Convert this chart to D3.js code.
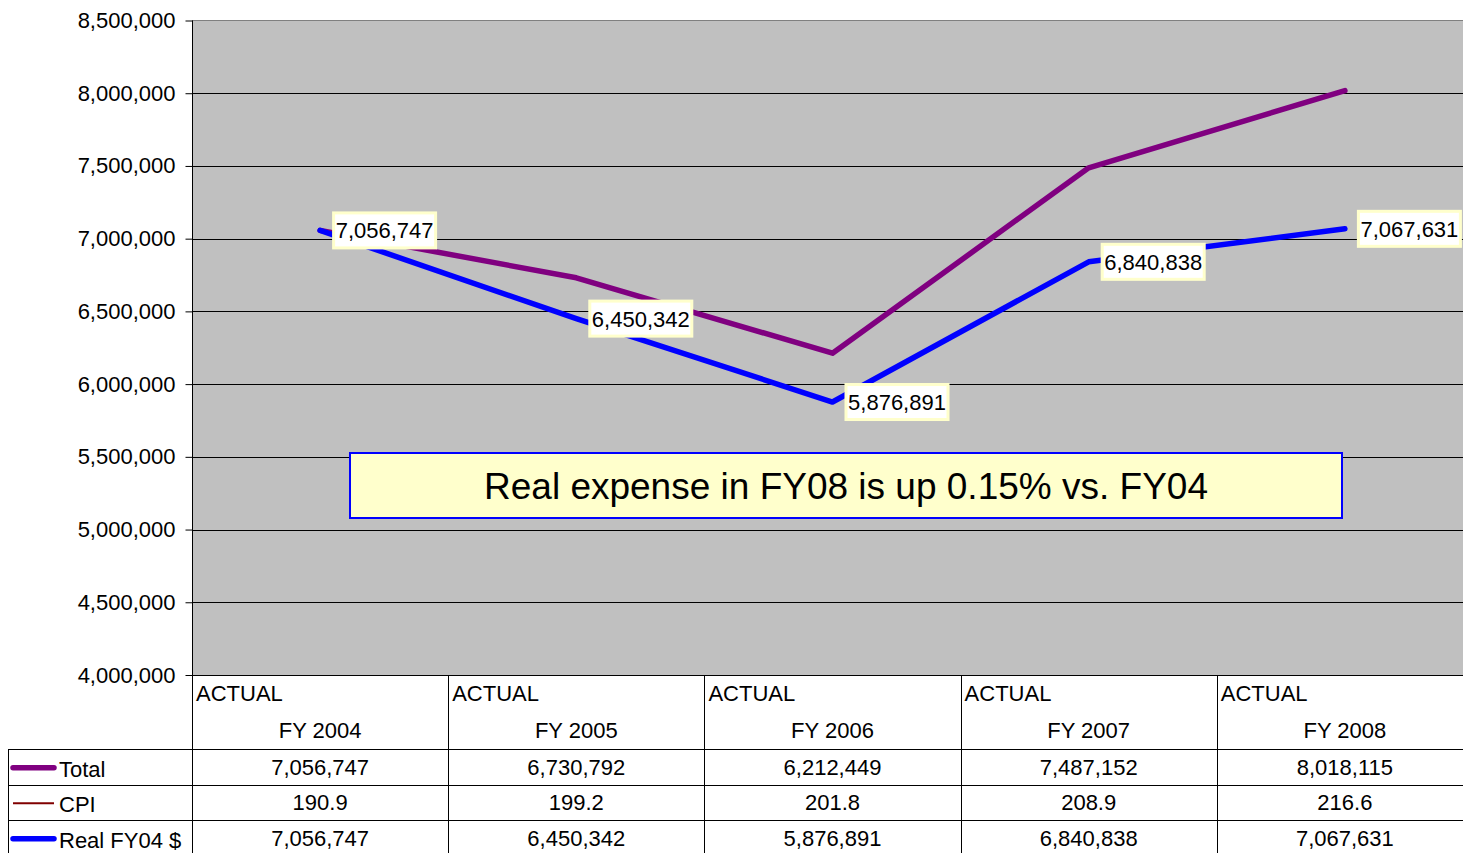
<!DOCTYPE html>
<html>
<head>
<meta charset="utf-8">
<script src="https://cdn.jsdelivr.net/npm/d3@7"></script>
<style>
  body { margin: 0; background: #fff; }
  svg { display: block; font-family: Arial, "Liberation Sans", sans-serif; }
</style>
</head>
<body>
<svg id="chart" width="1463" height="853"></svg>
<script>
// data
const years = ["FY 2004", "FY 2005", "FY 2006", "FY 2007", "FY 2008"];
const total = [7056747, 6730792, 6212449, 7487152, 8018115];
const cpi = [190.9, 199.2, 201.8, 208.9, 216.6];
const realFY04 = [7056747, 6450342, 5876891, 6840838, 7067631];
const yTicks = [4000000, 4500000, 5000000, 5500000, 6000000, 6500000, 7000000, 7500000, 8000000, 8500000];
const note = "Real expense in FY08 is up 0.15% vs. FY04";

const fmt = d3.format(",");
const svg = d3.select("#chart");

const plotL = 192, plotR = 1473, plotT = 20.5, plotB = 675;

const x = d3.scaleBand().domain(years).range([plotL, plotR]);
const y = d3.scaleLinear().domain([4000000, 8500000]).range([plotB, plotT]);
const cx = d => x(d) + x.bandwidth() / 2;

// plot background
svg.append("rect")
  .attr("x", plotL).attr("y", plotT)
  .attr("width", plotR - plotL).attr("height", plotB - plotT)
  .attr("fill", "#c0c0c0");

// gridlines
svg.append("g").selectAll("line")
  .data(yTicks.slice(1, -1))
  .enter().append("line")
    .attr("x1", plotL).attr("x2", plotR)
    .attr("y1", d => Math.round(y(d)) + 0.5).attr("y2", d => Math.round(y(d)) + 0.5)
    .attr("stroke", "#000").attr("stroke-width", 1);

// top border
svg.append("line")
  .attr("x1", plotL).attr("x2", plotR).attr("y1", plotT).attr("y2", plotT)
  .attr("stroke", "#808080");

// y axis
const yAxis = svg.append("g")
  .attr("transform", "translate(" + (plotL + 0.5) + ",0)")
  .call(d3.axisLeft(y).tickValues(yTicks).tickFormat(fmt).tickSize(7).tickPadding(10));
yAxis.select(".domain").remove();
yAxis.selectAll(".tick line").attr("stroke", "#000");
yAxis.selectAll(".tick text")
  .attr("font-size", "22px").attr("fill", "#000")
  .attr("font-family", "Arial, 'Liberation Sans', sans-serif");

// left axis line
svg.append("line")
  .attr("x1", plotL + 0.5).attr("x2", plotL + 0.5).attr("y1", plotT).attr("y2", 856)
  .attr("stroke", "#000");

// lines
const line = d3.line().x((d, i) => cx(years[i])).y(d => y(d));

svg.append("path").datum(total)
  .attr("d", line).attr("fill", "none")
  .attr("stroke", "#800080").attr("stroke-width", 5.5)
  .attr("stroke-linecap", "round").attr("stroke-linejoin", "round");

svg.append("path").datum(realFY04)
  .attr("d", line).attr("fill", "none")
  .attr("stroke", "#0000ff").attr("stroke-width", 5.5)
  .attr("stroke-linecap", "round").attr("stroke-linejoin", "round");

// data labels for Real FY04 $
const labels = svg.append("g").selectAll("g")
  .data(realFY04)
  .enter().append("g")
    .attr("transform", (d, i) => "translate(" + (cx(years[i]) + 12) + "," + y(d) + ")");

labels.append("rect")
  .attr("x", 1.5).attr("y", -17.5)
  .attr("width", 102).attr("height", 35)
  .attr("fill", "#fff").attr("stroke", "#ffffcc").attr("stroke-width", 3);

labels.append("text")
  .attr("x", 52.5).attr("y", 8)
  .attr("text-anchor", "middle")
  .attr("font-size", "22px")
  .text(d => fmt(d));

// note box
svg.append("rect")
  .attr("x", 350).attr("y", 453)
  .attr("width", 992).attr("height", 65)
  .attr("fill", "#ffffcc").attr("stroke", "#0000ff").attr("stroke-width", 2);

svg.append("text")
  .attr("x", 846).attr("y", 499)
  .attr("text-anchor", "middle")
  .attr("font-size", "37px")
  .text(note);

// data table
const table = svg.append("g");
const rowTop = 749, rowH = 35.5;

// bottom axis line / table top
table.append("line")
  .attr("x1", plotL).attr("x2", plotR).attr("y1", plotB + 0.5).attr("y2", plotB + 0.5)
  .attr("stroke", "#000");

// column separators
table.selectAll(".col")
  .data(years)
  .enter().append("line")
    .attr("x1", d => Math.round(x(d) + x.bandwidth()) + 0.5)
    .attr("x2", d => Math.round(x(d) + x.bandwidth()) + 0.5)
    .attr("y1", plotB).attr("y2", 856)
    .attr("stroke", "#000");

// row lines
table.selectAll(".row")
  .data([0, 1, 2, 3])
  .enter().append("line")
    .attr("x1", 8).attr("x2", plotR)
    .attr("y1", d => Math.round(rowTop + d * rowH) + 0.5)
    .attr("y2", d => Math.round(rowTop + d * rowH) + 0.5)
    .attr("stroke", "#000");

table.append("line")
  .attr("x1", 8.5).attr("x2", 8.5).attr("y1", rowTop).attr("y2", 856)
  .attr("stroke", "#000");

// header
table.selectAll(".actual")
  .data(years)
  .enter().append("text")
    .attr("x", d => x(d) + 4).attr("y", 701)
    .attr("font-size", "22px")
    .text("ACTUAL");

table.selectAll(".year")
  .data(years)
  .enter().append("text")
    .attr("x", d => cx(d)).attr("y", 738)
    .attr("text-anchor", "middle")
    .attr("font-size", "22px")
    .text(d => d);

// rows
const rows = [
  { name: "Total", values: total, color: "#800080", width: 5.5, f: fmt },
  { name: "CPI", values: cpi, color: "#800000", width: 2, f: d3.format(".1f") },
  { name: "Real FY04 $", values: realFY04, color: "#0000ff", width: 5.5, f: fmt }
];

rows.forEach((r, ri) => {
  const mid = rowTop + ri * rowH + rowH / 2;
  table.append("line")
    .attr("x1", 13).attr("x2", 54)
    .attr("y1", mid + 1).attr("y2", mid + 1)
    .attr("stroke", r.color).attr("stroke-width", r.width)
    .attr("stroke-linecap", r.width > 2 ? "round" : "butt");
  table.append("text")
    .attr("x", 59).attr("y", mid + 10)
    .attr("font-size", "22px")
    .text(r.name);
  table.selectAll(null)
    .data(r.values)
    .enter().append("text")
      .attr("x", (d, i) => cx(years[i])).attr("y", mid + 8)
      .attr("text-anchor", "middle")
      .attr("font-size", "22px")
      .text(d => r.f(d));
});
</script>
</body>
</html>
